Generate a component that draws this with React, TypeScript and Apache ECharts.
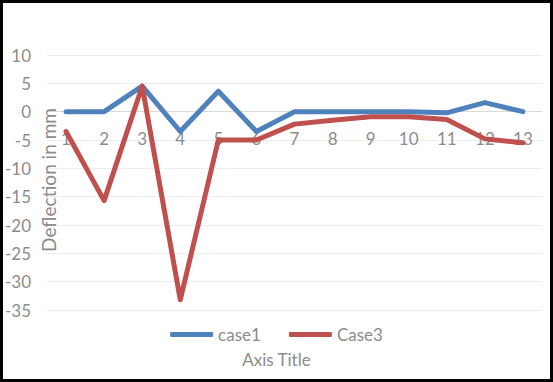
import React, { useEffect, useRef } from "react";
import * as echarts from "echarts";

const categories = ["1", "2", "3", "4", "5", "6", "7", "8", "9", "10", "11", "12", "13"];
const case1 = [0, 0, 4.5, -3.5, 3.6, -3.5, 0, 0, 0, 0, -0.2, 1.6, 0];
const case3 = [-3.5, -15.7, 4.5, -33.2, -5, -5, -2.2, -1.5, -0.9, -0.9, -1.4, -4.8, -5.5];
const yMin = -35;
const yMax = 10;
const yStep = 5;

const FONT = "Lato, 'Open Sans', sans-serif";
const GRAY = "#8c8c8c";

export default function App() {
  const ref = useRef<HTMLDivElement>(null);
  useEffect(() => {
    if (!ref.current) return;
    const chart = echarts.init(ref.current, undefined, { renderer: "svg" });
    chart.setOption({
      animation: false,
      backgroundColor: "#ffffff",
      grid: { left: 47, right: 11, top: 55, bottom: 72, containLabel: false },
      title: {
        text: "Axis Title",
        left: "center",
        top: 346,
        textStyle: { color: GRAY, fontFamily: FONT, fontSize: 17, fontWeight: "normal" },
      },
      legend: {
        data: ["case1", "Case3"],
        left: "center",
        top: 321,
        icon: "roundRect",
        itemWidth: 43,
        itemHeight: 5,
        itemGap: 28,
        textStyle: { color: GRAY, fontFamily: FONT, fontSize: 17 },
      },
      graphic: [
        {
          type: "text",
          x: 48,
          y: 180,
          rotation: Math.PI / 2,
          style: {
            text: "Deflection in mm",
            fill: GRAY,
            font: `19px ${FONT}`,
            textAlign: "center",
            textVerticalAlign: "middle",
          },
          z: 1,
        },
      ],
      xAxis: {
        type: "category",
        data: categories,
        boundaryGap: true,
        axisLine: { onZero: true, lineStyle: { color: "#d9d9d9", width: 1 } },
        axisTick: { show: false },
        axisLabel: { color: GRAY, fontFamily: FONT, fontSize: 17, margin: -180 },
        splitLine: { show: false },
      },
      yAxis: {
        type: "value",
        min: yMin,
        max: yMax,
        interval: yStep,
        axisLine: { show: false },
        axisTick: { show: false },
        axisLabel: { color: GRAY, fontFamily: FONT, fontSize: 17, margin: 16 },
        splitLine: { lineStyle: { color: "#ededed", width: 1 } },
      },
      series: [
        {
          name: "case1",
          type: "line",
          data: case1,
          symbol: "none",
          color: "#4f81bd",
          lineStyle: { width: 5, color: "#4f81bd", cap: "round", join: "round" },
          z: 3,
        },
        {
          name: "Case3",
          type: "line",
          data: case3,
          symbol: "none",
          color: "#c0504d",
          lineStyle: { width: 5, color: "#c0504d", cap: "round", join: "round" },
          z: 4,
        },
      ],
    });
    return () => chart.dispose();
  }, []);
  return (
    <div style={{ position: "fixed", left: 0, top: 0, width: 553, height: 382 }}>
      <div ref={ref} style={{ position: "absolute", left: 0, top: 0, width: 553, height: 382 }} />
      <div
        style={{
          position: "absolute",
          left: 0,
          top: 0,
          width: 553,
          height: 382,
          boxSizing: "border-box",
          border: "3px solid #000",
          pointerEvents: "none",
        }}
      />
    </div>
  );
}
